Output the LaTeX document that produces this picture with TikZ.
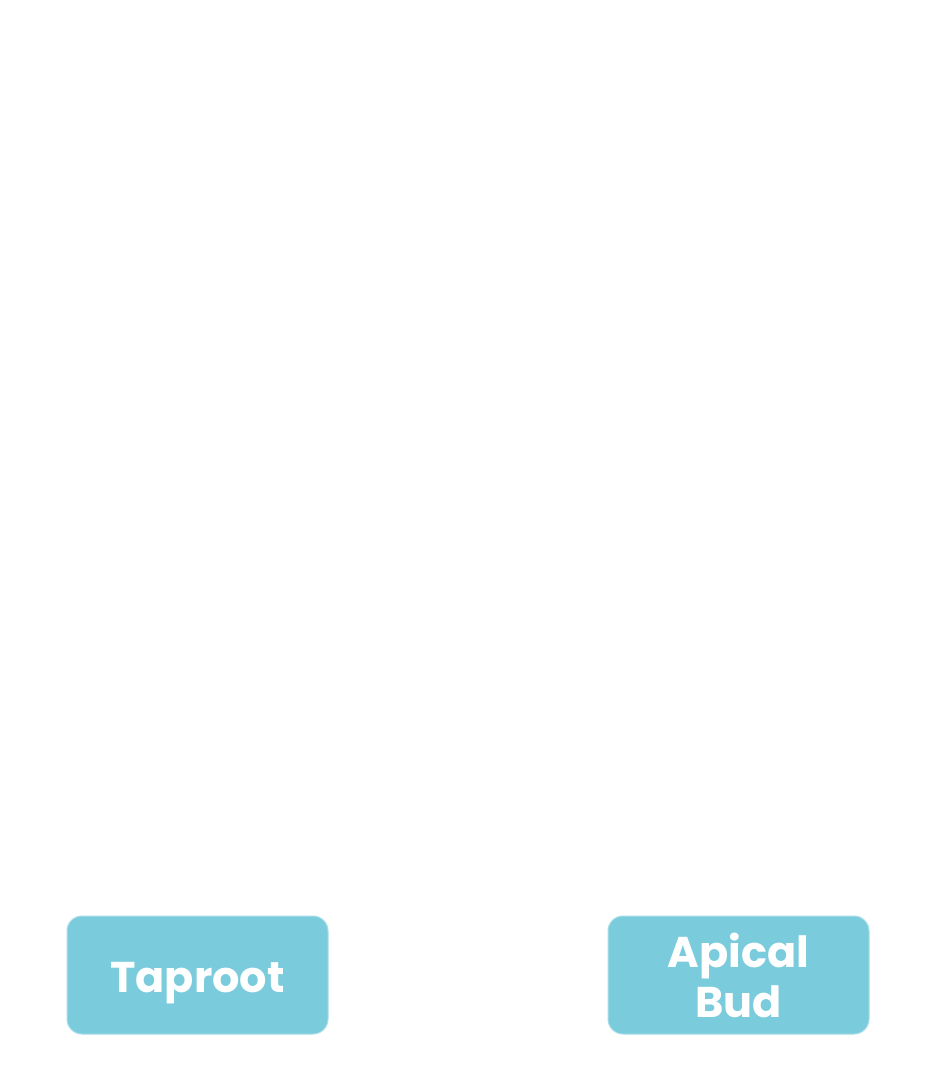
\documentclass[tikz,border=0pt]{standalone}
\usepackage{fontspec}
\setmainfont{Poppins}
\usepackage{xcolor}
\definecolor{boxblue}{HTML}{7ACCDC}
\definecolor{boxline}{HTML}{A9DDE8}

\tikzset{
  part/.style={fill=boxblue, draw=boxline, line width=1pt, rounded corners=15pt,
    minimum width=261pt, minimum height=118pt, inner sep=0pt,
    text=white, align=center, font=\fontsize{43}{50}\selectfont\bfseries},
}

\begin{document}
\begin{tikzpicture}[x=1pt,y=-1pt]
            \useasboundingbox (0,0) rectangle (936,1090);

            \node[part, text height=34pt, text depth=0pt] (taproot) at (197.5,975) {Taproot};
            \node[part] (apical) at (738.5,975) {Apical\\Bud};
        \end{tikzpicture}
\end{document}
